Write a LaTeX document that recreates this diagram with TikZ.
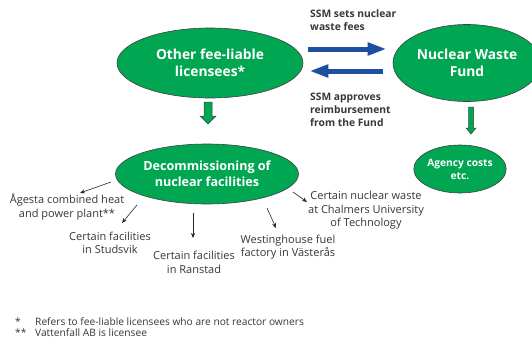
\documentclass[tikz,border=0pt]{standalone}
\usepackage{fontspec}
\setmainfont{Open Sans}
\usetikzlibrary{shapes.geometric,arrows.meta,calc}
\definecolor{fundgreen}{RGB}{0,166,81}
\definecolor{flowblue}{RGB}{28,80,158}
\definecolor{txtgray}{RGB}{55,55,55}
\begin{document}
\begin{tikzpicture}[x=1pt,y=-1pt,
  bubble/.style={ellipse, draw=black!75, line width=0.6pt, fill=fundgreen,
    inner sep=0pt, text=white, align=center,
    font=\bfseries\fontsize{13.8}{17.5}\selectfont},
  flow/.style={draw=flowblue, line width=5pt,
    -{Triangle[width=12pt,length=19pt]}},
  greenarr/.style={draw=black!75, line width=0.5pt, fill=fundgreen, line join=miter},
  label/.style={text=txtgray, align=center, inner sep=0pt,
    font=\fontsize{11}{13.6}\selectfont},
  boldlabel/.style={text=txtgray, align=left, inner sep=0pt, anchor=west,
    font=\bfseries\fontsize{10.3}{13}\selectfont},
  note/.style={text=txtgray, inner sep=0pt, anchor=west,
    font=\fontsize{10.2}{11}\selectfont},
  pointer/.style={draw=black!85, line width=0.6pt,
    -{Stealth[length=5pt,width=4pt]}}
]
\useasboundingbox (0,0) rectangle (532,340);
\fill[white] (0,0) rectangle (532,340);

% main bubbles
\node[bubble, minimum width=186pt, minimum height=70pt] (lic) at (210,63)
  {Other fee-liable\\licensees*};
\node[bubble, minimum width=148pt, minimum height=77pt] (fund) at (467,63)
  {Nuclear Waste\\Fund};
\node[bubble, minimum width=183pt, minimum height=60pt,
  font=\bfseries\fontsize{12.6}{16}\selectfont] (dec) at (207,174)
  {Decommissioning of\\nuclear facilities};
\node[bubble, minimum width=86pt, minimum height=48pt,
  font=\bfseries\fontsize{10.2}{13}\selectfont] (agency) at (460,169)
  {Agency costs\\etc.};

% money flows between licensees and the fund
\draw[flow] ($(lic.east)+(5,-14)$) -- ($(fund.west)+(-6,-14)$);
\draw[flow] ($(fund.west)+(-10,8)$) -- ($(lic.east)+(6,8)$);

\node[boldlabel] (fees) at (310,20.5) {SSM sets nuclear\\waste fees};
\node[boldlabel] (reimb) at (310,110) {SSM approves\\reimbursement\\from the Fund};

% block arrows pointing down
\coordinate (g1) at (208,102);
\draw[greenarr] (g1) ++(-4,0) -- ++(8,0) -- ++(0,14) -- ++(4,0)
  -- ($(g1)+(0,22)$) -- ++(-8,-8) -- ++(4,0) -- cycle;
\coordinate (g2) at (471,107);
\draw[greenarr] (g2) ++(-2.5,0) -- ++(5,0) -- ++(0,21) -- ++(2.5,0)
  -- ($(g2)+(0,27)$) -- ++(-5,-6) -- ++(2.5,0) -- cycle;

% decommissioning targets
\node[label] (agesta) at (67,207) {Ågesta combined heat\\and power plant**};
\node[label] (studs) at (110,243) {Certain facilities\\in Studsvik};
\node[label] (ranstad) at (194,262.5) {Certain facilities\\in Ranstad};
\node[label] (westing) at (288,247) {Westinghouse fuel\\factory in Västerås};
\node[label] (chalmers) at (366,210.5) {Certain nuclear waste\\at Chalmers University\\of Technology};

\coordinate (p1s) at (111,182); \coordinate (p1e) at (80,193);
\coordinate (p2s) at (137,205); \coordinate (p2e) at (122,223);
\coordinate (p3s) at (193,213); \coordinate (p3e) at (193,238);
\coordinate (p4s) at (267,208); \coordinate (p4e) at (276,228);
\coordinate (p5s) at (293,192); \coordinate (p5e) at (307,202);
\draw[pointer] (p1s) -- (p1e);
\draw[pointer] (p2s) -- (p2e);
\draw[pointer] (p3s) -- (p3e);
\draw[pointer] (p4s) -- (p4e);
\draw[pointer] (p5s) -- (p5e);

% footnotes
\node[note] (n1m) at (15,322) {*};
\node[note] (n1) at (35,322) {Refers to fee-liable licensees who are not reactor owners};
\node[note] (n2m) at (15,333) {**};
\node[note] (n2) at (35,333) {Vattenfall AB is licensee};
\end{tikzpicture}
\end{document}
